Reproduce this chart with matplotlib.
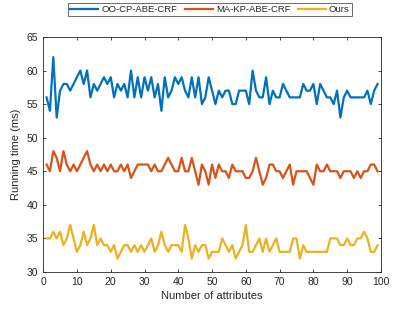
import matplotlib
matplotlib.use('Agg')
import matplotlib.pyplot as plt
import numpy as np

plt.rcParams['font.family'] = ['Liberation Sans', 'DejaVu Sans']

x = np.arange(1, 100)

oo_cp = [56, 54, 62, 53, 57, 58, 58, 57, 58, 59, 60, 58, 60, 56, 58, 57, 58, 59, 58, 59,
         56, 58, 57, 58, 56, 60, 56, 59, 56, 59, 57, 59, 56, 58, 54, 59, 56, 57, 59, 58,
         59, 57, 56, 59, 56, 59, 55, 56, 59, 57, 55, 57, 56, 57, 57, 55, 55, 57, 57, 57,
         55, 60, 57, 56, 56, 59, 55, 57, 56, 56, 58, 57, 56, 56, 56, 56, 58, 57, 57, 58,
         55, 58, 57, 56, 56, 55, 57, 53, 56, 57, 56, 56, 56, 56, 56, 57, 55, 57, 58]

ma_kp = [46, 45, 48, 47, 45, 48, 46, 45, 46, 45, 46, 47, 48, 46, 45, 46, 45, 46, 45, 46,
         45, 45, 46, 45, 46, 44, 45, 46, 46, 46, 46, 45, 46, 45, 45, 46, 47, 46, 45, 45,
         47, 45, 45, 47, 45, 43, 46, 45, 43, 46, 44, 46, 45, 45, 44, 46, 45, 45, 45, 44,
         44, 45, 47, 45, 43, 44, 46, 46, 45, 45, 44, 45, 46, 43, 45, 45, 45, 45, 44, 43,
         46, 45, 45, 46, 45, 45, 45, 44, 45, 45, 45, 44, 45, 44, 45, 45, 46, 46, 45]

ours = [35, 35, 36, 35, 36, 34, 35, 37, 35, 33, 34, 36, 34, 35, 37, 34, 35, 34, 34, 33,
        34, 32, 33, 34, 34, 33, 34, 33, 34, 33, 34, 35, 33, 34, 36, 34, 33, 34, 34, 34,
        33, 37, 35, 32, 34, 33, 34, 34, 32, 33, 33, 33, 35, 34, 33, 34, 32, 33, 34, 37,
        33, 33, 34, 35, 33, 35, 33, 34, 35, 33, 33, 33, 33, 35, 35, 32, 34, 33, 33, 33,
        33, 33, 33, 33, 35, 35, 35, 34, 34, 35, 34, 34, 35, 35, 36, 35, 33, 33, 34]

labels = ['OO-CP-ABE-CRF', 'MA-KP-ABE-CRF', 'Ours']
colors = ['#0072BD', '#D95319', '#EDB120']

fig = plt.figure(figsize=(3.96, 3.13), dpi=100)
ax = fig.add_axes([0.109, 0.131, 0.853, 0.751])

for y, lab, c in zip([oo_cp, ma_kp, ours], labels, colors):
    ax.plot(x, y, color=c, lw=1.6, label=lab)

ax.set_xlim(0, 100)
ax.set_ylim(30, 65)
ax.set_xticks(np.arange(0, 101, 10))
ax.set_yticks(np.arange(30, 66, 5))
ax.tick_params(direction='in', top=True, right=True, labelsize=7.5,
               colors='#262626', length=2.5, width=0.6)
for s in ax.spines.values():
    s.set_color('#262626')
    s.set_linewidth(0.6)
ax.set_xlabel('Number of attributes', fontsize=8, color='#262626', labelpad=3)
ax.set_ylabel('Running time (ms)', fontsize=8, color='#262626', labelpad=4)

leg = fig.legend(loc='upper center', bbox_to_anchor=(0.53, 0.995), ncol=3,
                 fontsize=6.8, frameon=True, fancybox=False, handlelength=3.0,
                 columnspacing=0.8, handletextpad=0.3, borderpad=0.25,
                 borderaxespad=0.1)
leg.get_frame().set_edgecolor('#262626')
leg.get_frame().set_linewidth(0.6)
for t in leg.get_texts():
    t.set_color('#262626')

fig.savefig('out.png', dpi=100)
